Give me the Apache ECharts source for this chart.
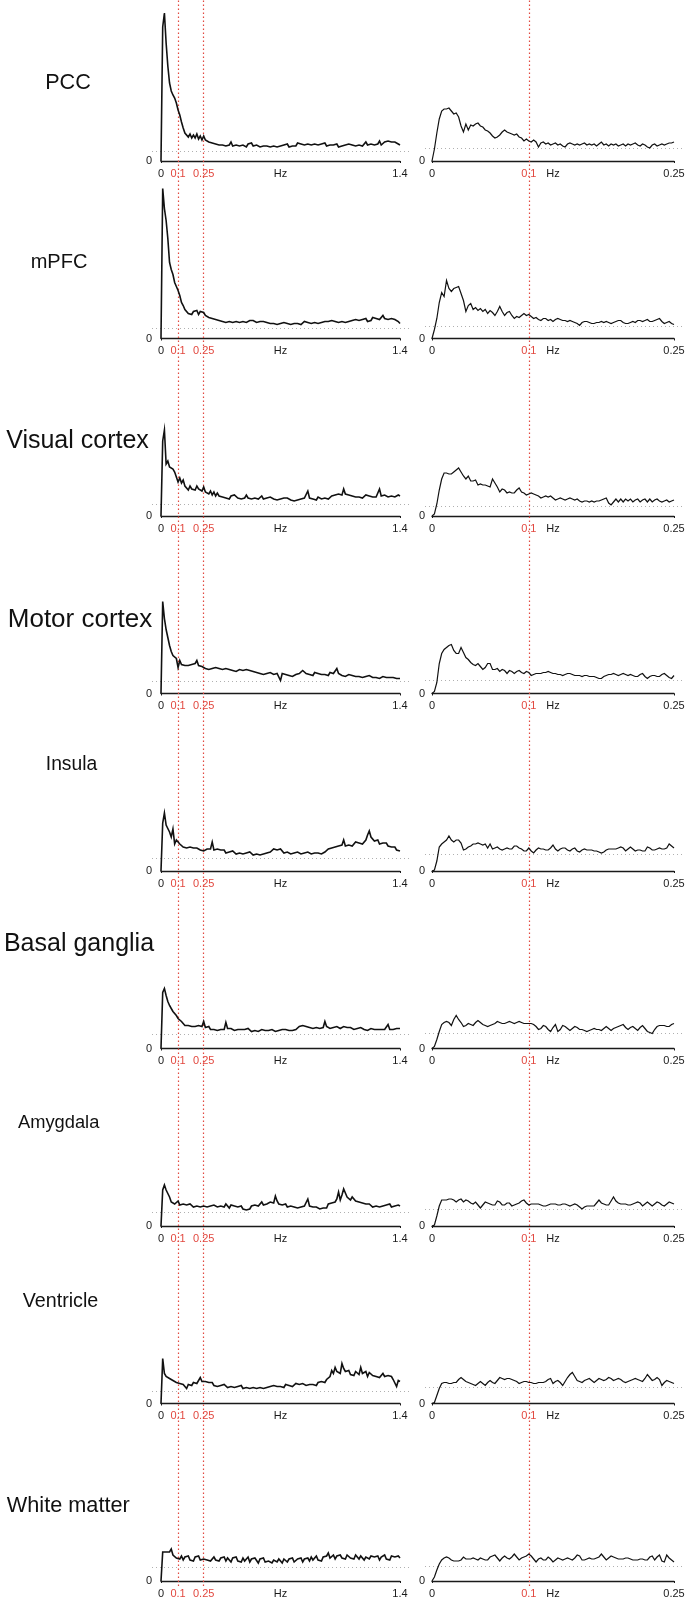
<!DOCTYPE html>
<html><head><meta charset="utf-8">
<script src="https://cdn.jsdelivr.net/npm/echarts@6/dist/echarts.min.js"></script>
<style>html,body{margin:0;padding:0;background:#fff}#c{width:688px;height:1601px}</style>
</head><body><div id="c"></div>
<script>
// ---------- data (amplitude, arbitrary units) ----------
const ROW_LABELS = ['PCC','mPFC','Visual cortex','Motor cortex','Insula','Basal ganglia','Amygdala','Ventricle','White matter'];
const LEFT_STEP = 0.01;    // Hz between samples, 0 - 1.4 Hz
const RIGHT_STEP = 0.0025; // Hz between samples, 0 - 0.25 Hz
const LEFT_TICKS = [0, 0.1, 0.25, 0.7, 1.4];
const RIGHT_TICKS = [0, 0.1, 0.125, 0.25];
const LEFT_REF = [10,10,12,12,13,14,14,12,14];
const RIGHT_REF = [13,12.5,10,13.5,17,15,17,16.5,15];

const PCC_LEFT = [0,134,148,118,95,78,70,66,63,58, 51,46,39,33,28,27,24,27,23,26, 23,27,22,25,21,25,21,23,19,21, 18,20,17,19,16,18,
16,18,15,17,16,19,15,17,16,18, 15,17,16,18,14,17,16,18,15,17, 16,17,14,16,15,17,15,16,14,16, 15,17,14,16,15,14,16,15,17,14,
16,15,17,15,18,16,17,19,16,18, 17,19,16,18,17,19,16,18,17,16, 18,15,17,16,14,16,15,17,14,16, 15,17,16,14,17,15,16,18,15,17,
16,18,15,17,19,16,18,17,19,16, 18,17,20,16,18,19,17,20,18,19, 17,19,18,17,16];
const MPFC_LEFT = [0,150,130,118,100,76,69,64,56,52, 48,43,36,33,29,27,25,27,24,27, 25,28,24,27,29,26,23,24,21,23, 20,22,19,21,18,19,
17,19,16,18,17,19,16,18,17,18, 16,18,17,19,16,17,18,16,18,17, 16,18,17,15,17,18,16,17,15,17, 15,16,14,16,15,13,16,14,15,16,
14,16,15,13,15,16,14,15,17,15, 16,17,15,17,16,18,15,17,16,18, 17,15,17,16,18,16,17,19,16,18, 17,19,16,18,17,19,18,16,19,17,
18,17,19,18,20,17,19,18,21,19, 20,22,19,21,23,20,22,19,21,20, 22,19,20,17,15];
const VIS_LEFT = [0,75,86,52,55,49,50,47,44,42, 34,38,33,36,30,28,26,30,27,29, 26,30,27,28,25,29,24,26,22,25, 21,24,20,23,20,21,
19,21,18,20,17,20,18,21,19,18, 20,17,19,18,21,18,20,17,19,18, 20,17,18,20,17,19,18,17,19,18, 17,19,16,18,17,19,18,16,18,17,
16,18,15,17,16,15,17,16,18,17, 25,18,19,17,18,16,19,18,17,19, 18,19,17,19,20,18,21,20,22,21, 21,27,22,20,21,19,20,18,19,20,
19,20,18,19,21,19,20,18,19,20, 19,21,27,20,19,21,20,19,21,20, 21,19,20,21,20];
const MOT_LEFT = [0,92,75,64,56,48,42,38,36,35, 26,33,29,27,28,26,28,27,29,28, 30,33,28,30,27,29,25,27,24,26, 25,23,26,24,25,23,
24,22,25,23,24,22,23,24,22,23, 24,22,23,21,24,22,23,21,22,23, 21,22,20,21,19,21,20,19,21,20, 19,21,20,18,13,20,18,19,17,18,
19,17,18,19,18,20,19,23,22,20, 21,19,20,18,21,19,20,18,19,21, 19,20,18,21,19,20,18,25,20,19, 18,19,17,18,19,17,18,19,17,18,
17,18,16,18,17,16,18,17,16,17, 16,17,15,16,17,15,16,14,16,15, 16,14,15,16,15];
const INS_LEFT = [0,48,58,46,44,39,34,42,27,31, 29,27,25,24,22,23,21,24,22,23, 21,23,22,21,23,20,21,22,20,22, 29,21,20,22,20,21,
19,21,18,20,19,18,20,19,17,19, 18,20,17,19,18,17,19,18,16,18, 17,18,16,18,17,19,18,17,19,20, 22,20,21,19,22,20,18,17,19,18,
17,19,18,17,19,18,17,19,18,17, 19,18,17,19,18,17,18,19,17,18, 19,18,22,21,23,22,24,23,25,24, 26,31,25,27,26,28,25,27,29,27,
28,30,27,29,31,36,40,34,32,30, 29,31,27,29,28,26,28,25,27,24, 22,24,21,23,20];
const BG_LEFT = [0,56,60,53,47,43,40,37,35,33, 30,28,27,25,23,22,23,21,22,20, 22,21,23,21,22,27,21,20,22,19, 21,19,20,18,20,19,
21,19,26,20,18,20,19,18,20,19, 18,19,17,19,18,20,18,17,19,18, 19,17,18,19,17,18,20,18,17,19, 18,17,19,18,17,19,18,19,17,18,
19,18,20,19,21,22,20,23,21,22, 23,21,22,20,22,21,23,20,22,21, 27,22,21,20,22,21,20,22,21,20, 21,22,20,21,19,21,20,19,21,20,
19,21,20,19,20,18,19,20,18,19, 18,19,17,19,18,19,17,24,19,20, 19,21,20,19,20];
const AMY_LEFT = [0,36,41,36,35,29,24,22,22,20, 25,21,19,22,20,21,19,22,20,19, 21,20,22,19,21,20,22,19,21,20, 19,21,22,19,21,20,
21,19,22,20,18,21,19,20,22,19, 18,20,17,19,16,18,17,20,22,21, 23,20,22,24,21,23,22,21,24,22, 23,30,25,22,24,21,20,22,19,21,
20,22,19,21,18,20,19,18,20,19, 27,20,18,19,17,19,18,17,19,18, 19,18,22,24,23,25,24,27,34,26, 31,37,33,29,28,26,29,27,25,23,
24,22,23,21,22,20,22,21,19,21, 20,22,19,21,20,19,21,20,22,19, 21,20,19,21,20];
const VEN_LEFT = [0,45,30,27,26,25,24,23,22,21, 22,20,21,19,20,15,19,20,18,21, 19,20,21,26,22,21,22,20,21,19, 21,18,20,17,19,18,
17,19,18,16,18,17,19,16,18,17, 16,18,15,17,16,18,15,17,16,17, 15,17,16,18,15,17,16,15,17,16, 18,16,17,19,17,18,16,19,17,18,
19,17,18,20,18,19,17,20,19,18, 20,19,21,19,20,18,21,20,22,21, 21,24,23,27,33,30,36,32,34,30, 40,35,32,30,33,29,31,28,32,30,
29,36,30,28,32,27,31,29,28,30, 27,29,26,28,30,27,25,28,26,27, 24,26,17,23,22];
const WM_LEFT = [0,29,30,29,27,29,32,26,28,23, 24,22,25,21,24,22,25,21,23,20, 24,22,25,21,23,22,24,21,23,20, 22,24,21,23,20,23,
21,24,20,23,22,19,23,21,24,20, 22,19,23,20,22,24,19,22,20,23, 21,18,22,20,23,19,21,20,22,18, 21,23,19,22,20,18,22,21,19,22,
20,23,19,21,22,20,23,19,22,21, 23,20,24,21,22,25,21,23,20,24, 22,25,28,23,24,26,22,25,23,26, 23,25,22,26,24,23,25,22,26,24,
22,25,23,21,24,26,22,25,23,24, 22,25,21,24,23,26,22,24,21,25, 23,24,22,25,23];

const PCC_RIGHT = [0,12,28,42,50,52,52,53,50,47, 48,44,35,29,37,31,36,35,37,38, 35,34,31,30,28,25,23,24,26,29,
31,29,28,27,26,27,24,23,20,22, 20,19,21,19,14,18,19,17,18,16, 17,18,16,17,15,14,17,18,17,16, 17,16,17,18,16,17,16,17,15,17,
19,16,17,15,17,16,17,15,16,17, 15,17,16,17,18,16,15,17,16,14, 13,16,17,15,16,17,16,17,18,18, 19];
const MPFC_RIGHT = [0,9,20,36,46,42,58,50,47,50, 51,52,45,38,27,33,35,29,31,28, 30,27,29,25,28,26,23,27,32,27,
23,26,27,23,20,22,21,23,25,23, 24,22,20,21,19,18,20,20,18,19, 17,19,20,19,18,18,17,18,17,16, 15,13,16,17,17,16,15,15,16,16,
17,16,17,16,15,16,17,18,18,16, 15,15,16,17,16,18,18,17,18,19, 17,17,18,19,20,17,15,16,17,15, 14];
const VIS_RIGHT = [0,2,12,26,37,43,43,42,42,44, 46,48,44,40,37,40,35,35,36,31, 32,31,31,30,29,37,33,29,24,27,
26,23,24,23,23,26,28,24,23,21, 22,23,22,21,20,18,19,20,19,20, 18,16,17,18,17,16,17,18,17,16, 17,15,14,15,15,14,15,14,15,15,
16,17,18,13,11,14,17,14,17,14, 17,15,17,14,16,17,14,16,17,14, 17,14,16,17,15,14,15,16,14,15, 16];
const MOT_RIGHT = [0,2,11,30,40,44,46,48,49,43, 40,40,46,41,36,34,31,29,28,30, 27,24,26,30,30,24,24,25,22,24,
23,20,23,22,20,22,23,21,20,22, 21,18,19,20,20,20,21,21,22,21, 20,20,19,19,18,19,20,20,19,18, 18,18,17,18,18,17,17,17,16,15,
15,17,18,19,19,20,19,18,19,20, 19,18,19,18,17,17,19,20,17,15, 17,18,18,17,17,19,20,18,16,15, 18];
const INS_RIGHT = [0,1,10,24,27,29,31,35,31,29, 31,31,28,21,22,24,25,27,27,28, 27,26,27,23,27,22,23,24,22,21,
22,23,22,22,25,25,23,22,20,20, 23,20,18,21,23,22,22,21,21,23, 26,22,20,22,23,23,21,20,22,23, 20,19,21,22,21,21,21,20,20,19,
18,19,21,22,22,22,22,23,24,23, 20,22,24,22,20,21,21,20,20,24, 23,21,21,22,23,22,22,23,27,25, 23];
const BG_RIGHT = [0,2,9,17,24,26,27,26,23,29, 33,29,26,22,23,25,24,23,26,28, 26,24,23,22,23,24,25,27,26,25,
25,26,27,26,25,26,27,26,25,25, 25,25,24,22,19,20,23,22,19,17, 21,24,17,19,23,22,20,18,20,22, 21,19,19,18,17,18,19,20,19,19,
18,20,22,20,18,20,21,22,23,24, 21,19,21,22,20,18,21,23,20,17, 16,15,19,22,23,23,23,22,22,24, 25];
const AMY_RIGHT = [0,1,10,20,26,26,26,27,27,26, 24,26,27,24,26,25,23,22,24,21, 18,21,24,23,22,21,21,25,24,21,
21,23,23,20,21,22,23,25,26,23, 21,22,22,22,22,21,20,20,21,22, 22,22,21,21,22,22,21,20,21,22, 21,19,17,19,20,20,20,20,23,26,
23,22,21,21,25,29,25,23,22,22, 22,21,21,22,23,24,23,20,22,24, 22,20,22,24,23,21,20,22,24,23, 22];
const VEN_RIGHT = [0,1,8,15,20,21,21,20,20,21, 21,24,26,24,22,21,20,19,18,20, 22,20,18,21,23,21,20,23,26,25,
24,25,25,24,23,22,20,21,22,22, 21,21,20,20,21,21,21,22,24,25, 20,22,23,21,18,22,26,29,31,27, 23,22,21,23,24,25,23,21,23,25,
24,23,24,26,25,23,24,25,24,22, 21,22,23,24,25,24,23,22,25,29, 26,23,24,26,24,18,21,23,22,21, 20];
const WM_RIGHT = [0,4,11,17,21,23,24,23,21,20, 20,20,21,24,22,22,22,23,22,21, 23,22,21,21,24,25,26,23,20,23,
25,23,22,24,27,24,21,23,24,25, 27,25,22,19,22,23,21,21,24,22, 19,21,23,22,21,22,23,22,21,23, 26,25,21,21,22,23,22,22,23,24,
27,24,21,23,25,24,23,22,22,22, 23,23,22,21,21,21,22,22,21,21, 24,25,21,24,26,20,19,26,23,21, 19];

const LEFT_VALUES = [PCC_LEFT, MPFC_LEFT, VIS_LEFT, MOT_LEFT, INS_LEFT, BG_LEFT, AMY_LEFT, VEN_LEFT, WM_LEFT];
const RIGHT_VALUES = [PCC_RIGHT, MPFC_RIGHT, VIS_RIGHT, MOT_RIGHT, INS_RIGHT, BG_RIGHT, AMY_RIGHT, VEN_RIGHT, WM_RIGHT];

// ---------- layout ----------
const FONT = '"Liberation Sans", Arial, Helvetica, sans-serif';
const RED = '#e2483f';
const INK = '#1a1a1a';
const ZERO0 = 161, ROW_STEP = 177.5, PLOT_H = 160, Y_MAX = 160;
const LABEL_POS = [[68,83,21.6],[59,262,20],[77.5,441,25],[80,620,26],[71.5,765,19.3],[79,944,25],[58.7,1123,18.3],[60.5,1302,19.7],[68.3,1506,21.7]];
const PANELS = {
  left:  {left: 161, width: 239, max: 1.4,  step: LEFT_STEP,  ticks: LEFT_TICKS,  hz: 0.7,   refLeft: 152, refWidth: 258, yMargin: 9, red: [0.1, 0.25], lw: 1.6},
  right: {left: 432, width: 242, max: 0.25, step: RIGHT_STEP, ticks: RIGHT_TICKS, hz: 0.125, refLeft: 425, refWidth: 259, yMargin: 7, red: [0.1], lw: 1.2}
};

const grid = [], xAxis = [], yAxis = [], series = [], graphic = [];
const near = (a, b) => Math.abs(a - b) < 1e-9;

function addPanel(row, P, vals, ref) {
  const zero = ZERO0 + ROW_STEP * row;
  let gi = grid.length;
  grid.push({left: P.left, top: zero - PLOT_H, width: P.width, height: PLOT_H});
  xAxis.push({
    gridIndex: gi, type: 'value', min: 0, max: P.max, offset: 5,
    axisLine: {show: true, lineStyle: {color: INK, width: 1.3}},
    axisTick: {show: true, customValues: [0, P.max], length: 2, lineStyle: {color: INK, width: 1}},
    splitLine: {show: false},
    axisLabel: {
      customValues: P.ticks, margin: 2, fontSize: 11, fontFamily: FONT,
      formatter: v => near(v, P.hz) ? 'Hz' : String(v),
      color: v => P.red.some(r => near(+v, r)) ? RED : INK
    }
  });
  yAxis.push({
    gridIndex: gi, type: 'value', min: 0, max: Y_MAX, interval: Y_MAX,
    axisLine: {show: false}, axisTick: {show: false}, splitLine: {show: false},
    axisLabel: {margin: P.yMargin, fontSize: 11, fontFamily: FONT, color: INK, formatter: v => v === 0 ? '0' : ''}
  });
  series.push({
    type: 'line', xAxisIndex: gi, yAxisIndex: gi, silent: true, animation: false,
    symbol: 'none', showSymbol: false, z: 5,
    lineStyle: {color: '#111', width: P.lw, join: 'miter'},
    data: vals.map((v, i) => [+(i * P.step).toFixed(5), v])
  });
  // reference (dotted) level, slightly wider than the axes
  gi = grid.length;
  grid.push({left: P.refLeft, top: zero - PLOT_H, width: P.refWidth, height: PLOT_H});
  xAxis.push({gridIndex: gi, type: 'value', min: 0, max: 1, show: false});
  yAxis.push({gridIndex: gi, type: 'value', min: 0, max: Y_MAX, show: false});
  series.push({
    type: 'line', xAxisIndex: gi, yAxisIndex: gi, data: [], silent: true, animation: false, z: 2,
    markLine: {silent: true, symbol: 'none', animation: false, label: {show: false},
      lineStyle: {color: '#b0b0b0', type: [1, 3], width: 1}, data: [{yAxis: ref}]}
  });
}

for (let r = 0; r < ROW_LABELS.length; r++) {
  addPanel(r, PANELS.left, LEFT_VALUES[r], LEFT_REF[r]);
  addPanel(r, PANELS.right, RIGHT_VALUES[r], RIGHT_REF[r]);
  const [lx, ly, fs] = LABEL_POS[r];
  graphic.push({type: 'text', x: lx, y: ly, silent: true,
    style: {text: ROW_LABELS[r], fill: '#111', fontSize: fs, fontFamily: FONT, align: 'center', verticalAlign: 'middle'}});
}

// full-height red frequency markers
const bottom = ZERO0 + ROW_STEP * (ROW_LABELS.length - 1) + 5;
['left', 'right'].forEach(k => {
  const P = PANELS[k];
  const gi = grid.length;
  grid.push({left: P.left, top: 0, width: P.width, height: bottom});
  xAxis.push({gridIndex: gi, type: 'value', min: 0, max: P.max, show: false});
  yAxis.push({gridIndex: gi, type: 'value', min: 0, max: 1, show: false});
  series.push({
    type: 'line', xAxisIndex: gi, yAxisIndex: gi, data: [], silent: true, animation: false, z: 1,
    markLine: {silent: true, symbol: 'none', animation: false, label: {show: false},
      lineStyle: {color: RED, type: [1.5, 2.5], width: 1.2},
      data: P.red.map(f => ({xAxis: f, lineStyle: {color: RED, type: [1.5, 2.5], width: 1.2}}))}
  });
});

const chart = echarts.init(document.getElementById('c'), null, {renderer: 'canvas'});
chart.setOption({animation: false, backgroundColor: '#fff', grid, xAxis, yAxis, series, graphic});
</script>
</body></html>
